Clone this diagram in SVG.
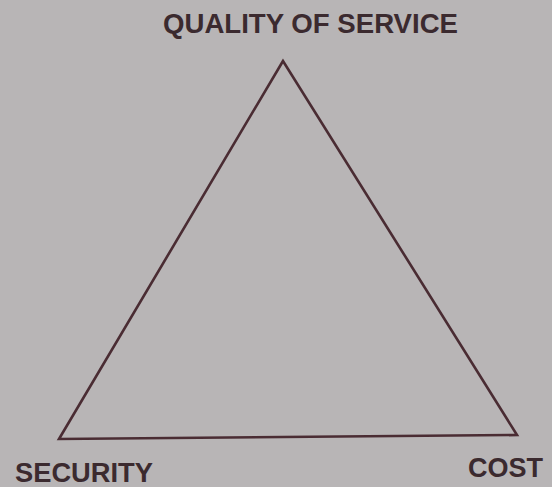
<svg xmlns="http://www.w3.org/2000/svg" width="552" height="487" viewBox="0 0 552 487">
<style>
.lbl{font-family:"Liberation Sans",Arial,sans-serif;font-weight:bold;font-size:27px;fill:#3b2a2f}
.edge{fill:none;stroke:#4a2c33;stroke-width:2.6;stroke-linejoin:miter}
</style>
<rect width="552" height="487" fill="#b8b5b6"/>
<g id="connectors">
<polygon class="edge" points="283,61 59,439 517,435"/>
</g>
<g id="quality"><text class="lbl" x="163" y="33" textLength="295" lengthAdjust="spacingAndGlyphs">QUALITY OF SERVICE</text></g>
<g id="security"><text class="lbl" x="15" y="482" font-size="26" textLength="138" lengthAdjust="spacingAndGlyphs">SECURITY</text></g>
<g id="cost"><text class="lbl" x="468" y="477" textLength="75" lengthAdjust="spacingAndGlyphs">COST</text></g>
</svg>
